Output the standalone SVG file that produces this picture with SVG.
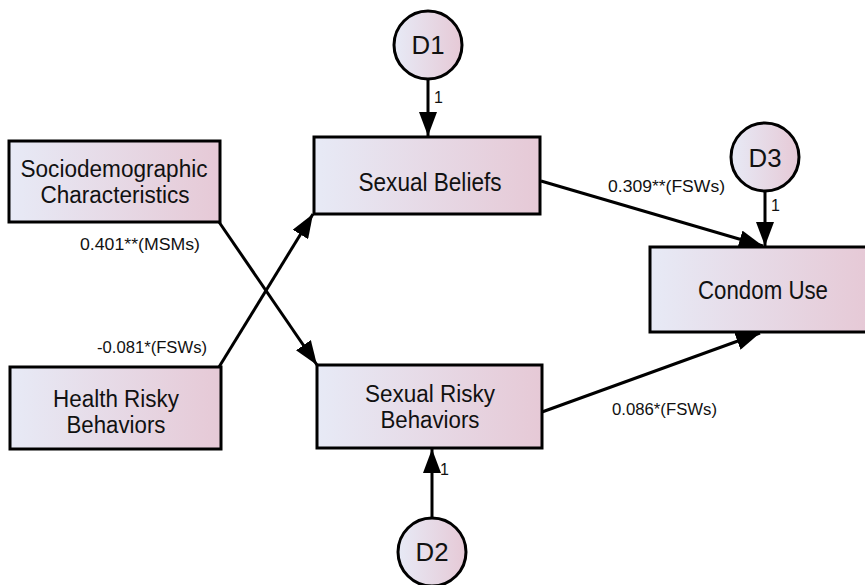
<svg xmlns="http://www.w3.org/2000/svg" width="865" height="585" viewBox="0 0 865 585">
<defs>
<linearGradient id="g" x1="0" y1="0" x2="1" y2="0">
<stop offset="0" stop-color="#e7eaf6"/>
<stop offset="1" stop-color="#e6c9d6"/>
</linearGradient>
<marker id="ah" viewBox="0 0 24 18" refX="24" refY="9" markerWidth="24" markerHeight="18" markerUnits="userSpaceOnUse" orient="auto">
<path d="M0,0 L24,9 L0,18 Z" fill="#000"/>
</marker>
<style>
.box{fill:url(#g);stroke:#000;stroke-width:3}
.lbl{font-family:"Liberation Sans",Arial,sans-serif;font-size:23px;fill:#111;text-anchor:middle}
.big{font-size:26px}
.sm{font-family:"Liberation Sans",Arial,sans-serif;font-size:16px;fill:#111}
.edge{stroke:#000;stroke-width:3;fill:none;marker-end:url(#ah)}
</style>
</defs>
<g id="connectors">
<line class="edge" x1="219" y1="222" x2="317" y2="365"/>
<line class="edge" x1="219" y1="367" x2="313" y2="214"/>
<line class="edge" x1="541" y1="181" x2="763" y2="246"/>
<line class="edge" x1="542" y1="412" x2="760" y2="333"/>
<line class="edge" x1="428" y1="80" x2="428" y2="136"/>
<line class="edge" x1="432" y1="518" x2="432" y2="449"/>
<line class="edge" x1="765" y1="191" x2="765" y2="246"/>
<text class="sm" x="80" y="250" textLength="120" lengthAdjust="spacingAndGlyphs">0.401**(MSMs)</text>
<text class="sm" x="97" y="353" textLength="110" lengthAdjust="spacingAndGlyphs">-0.081*(FSWs)</text>
<text class="sm" x="608" y="192" textLength="117" lengthAdjust="spacingAndGlyphs">0.309**(FSWs)</text>
<text class="sm" x="612" y="415" textLength="105" lengthAdjust="spacingAndGlyphs">0.086*(FSWs)</text>
<text class="sm" x="434" y="103">1</text>
<text class="sm" x="440" y="475">1</text>
<text class="sm" x="771" y="211">1</text>
</g>
<g id="sociodemographic">
<rect class="box" x="9" y="141" width="211" height="81"/>
<text class="lbl" x="114" y="177" textLength="187" lengthAdjust="spacingAndGlyphs">Sociodemographic</text>
<text class="lbl" x="115" y="203" textLength="149" lengthAdjust="spacingAndGlyphs">Characteristics</text>
</g>
<g id="health">
<rect class="box" x="10" y="367" width="211" height="82"/>
<text class="lbl" x="116" y="407" textLength="126" lengthAdjust="spacingAndGlyphs">Health Risky</text>
<text class="lbl" x="116" y="433" textLength="99" lengthAdjust="spacingAndGlyphs">Behaviors</text>
</g>
<g id="beliefs">
<rect class="box" x="314" y="137" width="226" height="77"/>
<text class="lbl big" x="430" y="191" textLength="143" lengthAdjust="spacingAndGlyphs">Sexual Beliefs</text>
</g>
<g id="sexrisky">
<rect class="box" x="317" y="365" width="225" height="83"/>
<text class="lbl" x="430" y="402" textLength="130" lengthAdjust="spacingAndGlyphs">Sexual Risky</text>
<text class="lbl" x="430" y="428" textLength="99" lengthAdjust="spacingAndGlyphs">Behaviors</text>
</g>
<g id="condom">
<rect class="box" x="650" y="247" width="218" height="85"/>
<text class="lbl big" x="763" y="299" textLength="130" lengthAdjust="spacingAndGlyphs">Condom Use</text>
</g>
<g id="d1">
<circle class="box" cx="428" cy="45" r="34"/>
<text class="lbl big" x="428" y="54" textLength="33" lengthAdjust="spacingAndGlyphs">D1</text>
</g>
<g id="d2">
<circle class="box" cx="432" cy="552" r="34"/>
<text class="lbl big" x="432" y="561" textLength="33" lengthAdjust="spacingAndGlyphs">D2</text>
</g>
<g id="d3">
<circle class="box" cx="765" cy="157" r="34"/>
<text class="lbl big" x="765" y="167" textLength="33" lengthAdjust="spacingAndGlyphs">D3</text>
</g>
</svg>
